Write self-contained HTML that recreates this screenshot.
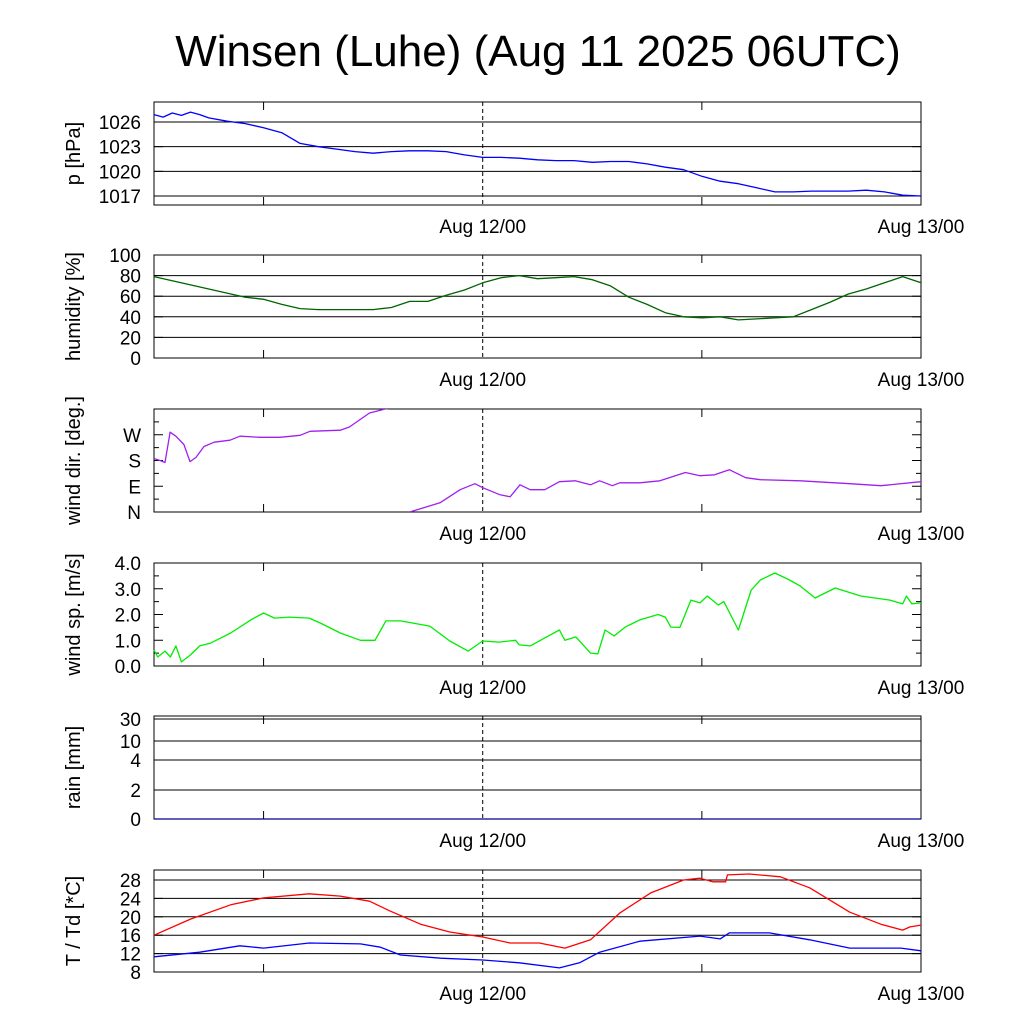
<!DOCTYPE html>
<html><head><meta charset="utf-8">
<style>
html,body{margin:0;padding:0;background:#fff;}
svg{display:block;font-family:"Liberation Sans",sans-serif;}
</style></head>
<body>
<svg id="chart" width="1024" height="1024" viewBox="0 0 1024 1024">
<text x="538" y="66" font-size="44" text-anchor="middle">Winsen (Luhe) (Aug 11 2025 06UTC)</text>
</svg>
<script>
// ---- data (hours since Aug 11 06UTC) ----
const xTickLabels = ["Aug 12/00", "Aug 13/00"];
const xTickHours = [18, 42];
const xMinorHours = [6, 30];

const presHours = [0,0.5,1,1.5,2,2.5,3,4,5,6,7,8,9,10,11,12,13,14,15,16,17,18,19,20,21,22,23,24,25,26,27,28,29,30,31,32,33,34,35,36,37,38,39,40,41,42];
const presVals  = [1026.9,1026.6,1027.1,1026.8,1027.2,1026.9,1026.5,1026.1,1025.8,1025.3,1024.7,1023.4,1023,1022.7,1022.4,1022.2,1022.4,1022.5,1022.5,1022.4,1022,1021.7,1021.7,1021.6,1021.4,1021.3,1021.3,1021.1,1021.2,1021.2,1020.9,1020.5,1020.2,1019.4,1018.8,1018.5,1018,1017.5,1017.5,1017.6,1017.6,1017.6,1017.7,1017.5,1017.1,1017];

const humHours = [0,2,4,5,6,7,8,9,12,13,14,15,16,17,18,19,20,21,22,23,24,25,26,27,28,29,30,31,32,33,34,35,36,37,38,39,40,41,42];
const humVals  = [79,71,63,59,57,52,48,47,47,49,55,55,61,66,73,78,80,77,78,79,76,70,59,52,44,40,39,40,37,38,39,40,47,54,62,67,73,79,73];

const dirHours = [0,0.33,0.6,0.88,1.2,1.64,1.97,2.3,2.74,3.29,4.16,4.71,5.8,6.9,8.0,8.54,10.2,10.7,11.8,12.65,13.2,14.0,15.66,16.76,17.58,18,18.95,19.5,20.04,20.6,21.4,22.2,23.06,23.9,24.4,25.1,25.5,26.6,27.7,29.1,29.9,30.7,31.5,32.4,33.2,35.4,38.1,39.8,42];
const dirVals  = [187,180,173,279,265,236,176,191,229,244,251,265,261,261,268,282,286,297,346,360,365,0,32,78,99,85,60,53,95,78,78,106,109,95,109,92,102,102,109,138,127,130,148,120,113,109,99,92,106];

const spdHours = [0,0.2,0.6,0.9,1.2,1.5,2.0,2.5,3.1,4.2,5.3,6.0,6.6,7.4,8.5,9.1,10.2,11.3,12.1,12.7,13.5,15.1,16.2,17.2,18,18.9,19.8,20.0,20.6,21.4,22.2,22.5,23.1,23.9,24.3,24.7,25.2,25.8,26.6,27.6,28.0,28.3,28.8,29.4,29.9,30.3,30.9,31.2,32.0,32.7,33.2,34.0,34.8,35.4,36.2,37.3,38.7,40.3,41.0,41.2,41.5,42];
const spdVals  = [0.62,0.35,0.58,0.35,0.78,0.16,0.43,0.78,0.89,1.28,1.79,2.06,1.86,1.9,1.86,1.67,1.28,1.0,1.0,1.75,1.75,1.55,0.97,0.58,0.97,0.93,1.0,0.82,0.78,1.09,1.4,1.0,1.13,0.5,0.47,1.4,1.17,1.51,1.79,2.0,1.9,1.51,1.5,2.56,2.45,2.72,2.37,2.5,1.4,2.95,3.34,3.61,3.34,3.1,2.64,3.03,2.72,2.56,2.41,2.72,2.41,2.45];

const rainHours = [0,42];
const rainVals  = [0,0];

const tHours = [0,2.0,4.2,6.0,8.5,10.2,11.8,12.9,14.6,16.2,18,19.5,21.1,22.5,23.9,25.5,27.2,29.0,29.9,30.6,31.3,31.4,32.6,34.3,35.9,38.1,39.8,41.0,41.4,42];
const tVals  = [16.0,19.5,22.6,24.1,25.0,24.5,23.4,21.3,18.4,16.7,15.6,14.3,14.3,13.2,15.0,20.8,25.2,28.0,28.4,27.6,27.6,29.1,29.3,28.7,26.3,21.0,18.4,17.1,17.8,18.2];
const tdHours = [0,2.5,4.7,6.0,8.5,11.3,12.4,13.5,15.7,18,20.0,22.2,23.3,24.4,26.6,29.9,31.0,31.5,33.7,35.9,38.1,40.9,42];
const tdVals  = [11.3,12.3,13.7,13.2,14.3,14.1,13.4,11.7,11.0,10.6,10.0,8.9,10.0,12.3,14.7,15.8,15.2,16.5,16.5,15.0,13.2,13.2,12.6];

const presTicks = [1017,1020,1023,1026];
const humTicks = [0,20,40,60,80,100];
const dirTicks = [0,90,180,270];
const dirTickLabels = ["N","E","S","W"];
const spdTicks = [0,1,2,3,4];
const spdTickLabels = ["0.0","1.0","2.0","3.0","4.0"];
const rainTicks = [0,2,4,10,30];
const tTicks = [8,12,16,20,24,28];

// ---- layout ----
const L = 154, R = 921, H0 = 0, H1 = 42;
const NS = "http://www.w3.org/2000/svg";
const svg = document.getElementById('chart');
function xs(h){ return L + (h - H0) / (H1 - H0) * (R - L); }
function mk(tag, attrs, parent){
  const e = document.createElementNS(NS, tag);
  for (const k in attrs) e.setAttribute(k, attrs[k]);
  (parent || svg).appendChild(e);
  return e;
}
function linear(v0, v1, top, bot){ return v => bot - (v - v0) / (v1 - v0) * (bot - top); }

function panel(name, top, bot, ys, ticks, labels, minor, grid, title){
  const g = mk('g', {});
  
  
  ticks.forEach((t, i) => {
    const y = ys(t);
    if (grid && y > top + 0.5 && y < bot - 0.5) {
      const gl = mk('line', {x1:L, x2:R, y1:y, y2:y, stroke:'#000', 'stroke-width':1}, g);
      
      
    }
    mk('line', {x1:L, x2:L+9, y1:y, y2:y, stroke:'#000'}, g);
    mk('line', {x1:R-9, x2:R, y1:y, y2:y, stroke:'#000'}, g);
    const tx = mk('text', {x:L-13, y:y+7, 'font-size':19, 'text-anchor':'end'}, g);
    tx.textContent = labels ? labels[i] : String(t);
    
    
  });
  (minor || []).forEach(t => {
    const y = ys(t);
    mk('line', {x1:L, x2:L+5, y1:y, y2:y, stroke:'#000'}, g);
    mk('line', {x1:R-5, x2:R, y1:y, y2:y, stroke:'#000'}, g);
  });
  xTickHours.forEach((h, i) => {
    const x = xs(h);
    if (x < R - 1) {
      const dl = mk('line', {x1:x, x2:x, y1:top, y2:bot, stroke:'#000', 'stroke-dasharray':'4,3'}, g);
      
      
    }
    const tl = mk('text', {x:x, y:bot+28, 'font-size':19, 'text-anchor':'middle'}, g);
    tl.textContent = xTickLabels[i];
    
    
  });
  xMinorHours.forEach(h => {
    const x = xs(h);
    mk('line', {x1:x, x2:x, y1:bot, y2:bot-8, stroke:'#000'}, g);
    mk('line', {x1:x, x2:x, y1:top, y2:top+8, stroke:'#000'}, g);
  });
  const fr = mk('rect', {x:L, y:top, width:R-L, height:bot-top, fill:'none', stroke:'#000', 'stroke-width':1}, g);
  
  
  const cy = (top + bot) / 2;
  const at = mk('text', {x:0, y:0, 'font-size':20, 'text-anchor':'middle', transform:`translate(80,${cy}) rotate(-90)`}, g);
  at.textContent = title;
  
  
  return g;
}

function series(name, hours, vals, ys, color, wrap){
  let segs = [[]];
  for (let i = 0; i < hours.length; i++) {
    if (wrap && i > 0 && Math.abs(vals[i] - vals[i-1]) > 180) segs.push([]);
    segs[segs.length-1].push([xs(hours[i]), ys(vals[i])]);
  }
  segs.forEach(s => {
    const p = mk('polyline', {points: s.map(q => q[0].toFixed(1)+','+q[1].toFixed(1)).join(' '), fill:'none', stroke:color, 'stroke-width':1.3, 'stroke-linejoin':'round'});
    
    
  });
}

const yP = linear(1017, 1026, 122, 196);
panel('pressure', 102, 205, yP, presTicks, null, null, true, 'p [hPa]');
series('pressure', presHours, presVals, yP, '#0000ff');

const yH = linear(0, 100, 255, 358);
panel('humidity', 255, 358, yH, humTicks, null, null, true, 'humidity [%]');
series('humidity', humHours, humVals, yH, '#006400');

const yD = linear(0, 360, 409, 512);
const svgClip = mk('clipPath', {id:'dclip'});
mk('rect', {x:L, y:409, width:R-L, height:103}, svgClip);
panel('wind-direction', 409, 512, yD, dirTicks, dirTickLabels, [45,135,225,315], false, 'wind dir. [deg.]');
const before = svg.childNodes.length;
series('wind-direction', dirHours, dirVals, yD, '#a020f0', true);
for (let i = before; i < svg.childNodes.length; i++) svg.childNodes[i].setAttribute('clip-path', 'url(#dclip)');

const yS = linear(0, 4, 563, 666);
panel('wind-speed', 563, 666, yS, spdTicks, spdTickLabels, [0.5,1.5,2.5,3.5], false, 'wind sp. [m/s]');
series('wind-speed', spdHours, spdVals, yS, '#00ee00');

const rainPix = [819, 790, 760, 741, 719];
function yR(v){
  for (let i = 1; i < rainTicks.length; i++) {
    if (v <= rainTicks[i]) {
      const f = (v - rainTicks[i-1]) / (rainTicks[i] - rainTicks[i-1]);
      return rainPix[i-1] + f * (rainPix[i] - rainPix[i-1]);
    }
  }
  return 716;
}
panel('rain', 716, 819, yR, rainTicks, null, null, true, 'rain [mm]');
series('rain', rainHours, rainVals, yR, '#00008b');

const yT = linear(8, 28, 880, 972);
panel('temperature', 870, 972, yT, tTicks, null, null, true, 'T / Td [*C]');
series('temperature', tHours, tVals, yT, '#ff0000');
series('dewpoint', tdHours, tdVals, yT, '#0000ff');
</script>
</body></html>
